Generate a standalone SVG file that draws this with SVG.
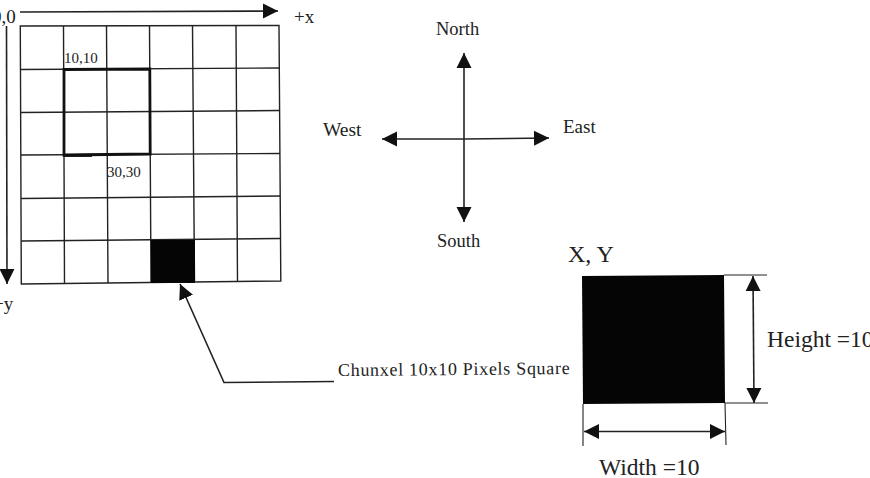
<svg xmlns="http://www.w3.org/2000/svg" width="870" height="478" viewBox="0 0 870 478">
<defs>
<marker id="ah" markerUnits="userSpaceOnUse" markerWidth="16" markerHeight="16" refX="15" refY="8" orient="auto-start-reverse" viewBox="0 0 16 16"><path d="M0,0.500 L15,8 L0,15.500 Z" fill="#111"/></marker>
</defs>
<style>
text{font-family:"Liberation Serif","Times New Roman",serif;fill:#222}
.g{stroke:#222;stroke-width:1.4;fill:none}
.c{stroke:#222;stroke-width:1.6;fill:none}
.t{stroke:#222;stroke-width:1.1;fill:none}
</style>
<rect width="870" height="478" fill="#fff"/>
<g id="grid">
<path class="g" d="M20.300,26 L279,25.500 L280.800,281 L21.300,284 Z"/>
<path class="g" d="M20.600,69.500 L279.400,68 M20.800,112.500 L279.700,110.500 M21,155 L280,153.500 M21.100,198.500 L280.300,196 M21.200,241 L280.500,238.500"/>
<path class="g" d="M63.500,26 L64.500,283.500 M106.500,26 L108,283 M149.500,26 L151,282.500 M192.500,26 L194.500,282 M236,25.800 L237.500,282"/>
<rect x="151" y="240" width="44" height="43" fill="#050505"/>
<path d="M64,69.500 L149.800,69 L150.200,154 L64,155 Z" fill="none" stroke="#111" stroke-width="2.800"/>
<path d="M63.500,155.500 L92,155.500" fill="none" stroke="#111" stroke-width="2.800"/>
</g>
<g id="connectors">
<path class="c" d="M20,12 L278,11" marker-end="url(#ah)"/>
<path class="c" d="M6.500,26 L7,284" marker-end="url(#ah)"/>
<path class="c" d="M464,139 L464,53" marker-end="url(#ah)"/>
<path class="c" d="M464,139 L464,222" marker-end="url(#ah)"/>
<path class="c" d="M464,139 L382,139" marker-end="url(#ah)"/>
<path class="c" d="M464,139 L549,138" marker-end="url(#ah)"/>
<path class="c" d="M334,381.500 L224,382.500 L180,284" marker-end="url(#ah)"/>
<path class="c" d="M753,276 L754,403" marker-start="url(#ah)" marker-end="url(#ah)"/>
<path class="c" d="M584,431.500 L725,431.500" marker-start="url(#ah)" marker-end="url(#ah)"/>
</g>
<g id="chunxel">
<path d="M582,276 L724,275 L725,403 L583,404 Z" fill="#050505"/>
<path class="t" d="M724,275 L767,275 M725,403 L768,403 M583,404 L583,446 M725,403 L726,445"/>
</g>
<g id="labels">
<text x="-8" y="23" font-size="19">0,0</text>
<text x="294" y="23" font-size="19">+x</text>
<text x="-7" y="310" font-size="19">+y</text>
<text x="64" y="63" font-size="15">10,10</text>
<text x="107" y="177" font-size="15">30,30</text>
<text x="436" y="35" font-size="18.500">North</text>
<text x="323" y="136" font-size="19.500">West</text>
<text x="563" y="133" font-size="19">East</text>
<text x="437" y="247" font-size="18.500">South</text>
<text x="338" y="376" font-size="18" letter-spacing="0.700" transform="rotate(-0.500 338 376)">Chunxel 10x10 Pixels Square</text>
<text x="568" y="262" font-size="24">X, Y</text>
<text x="767" y="347" font-size="23.500">Height =10</text>
<text x="599" y="475" font-size="23.500">Width =10</text>
</g>
</svg>
